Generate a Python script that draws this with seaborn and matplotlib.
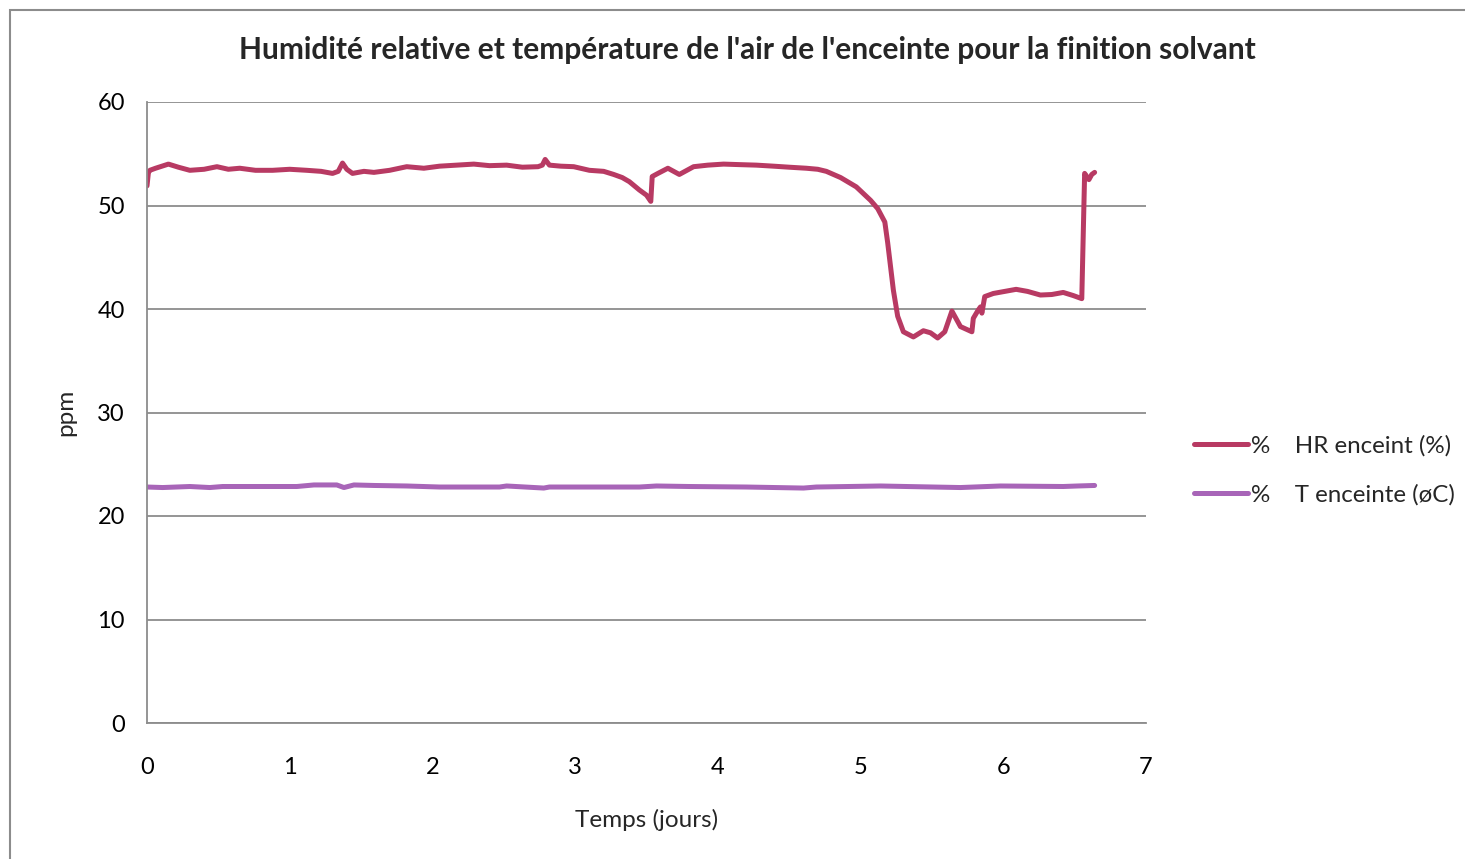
import numpy as np
import pandas as pd
import matplotlib
matplotlib.use("Agg")
import matplotlib.pyplot as plt
from matplotlib.patches import Rectangle
import seaborn as sns

# Relative humidity of the enclosure air (%), time in days
hr_days = [0.00, 0.01, 0.02, 0.06, 0.15, 0.22, 0.30, 0.40, 0.49, 0.57, 0.65, 0.76,
           0.88, 1.00, 1.12, 1.22, 1.30, 1.34, 1.37, 1.40, 1.44, 1.52, 1.59, 1.70,
           1.82, 1.94, 2.05, 2.17, 2.29, 2.40, 2.52, 2.63, 2.74, 2.77, 2.79, 2.82,
           2.90, 2.99, 3.10, 3.20, 3.27, 3.33, 3.38, 3.45, 3.50, 3.53, 3.54, 3.58,
           3.65, 3.73, 3.83, 3.93, 4.04, 4.15, 4.27, 4.39, 4.50, 4.62, 4.70, 4.76,
           4.86, 4.97, 5.07, 5.12, 5.17, 5.19, 5.21, 5.23, 5.26, 5.30, 5.37, 5.44,
           5.49, 5.54, 5.59, 5.64, 5.70, 5.78, 5.79, 5.82, 5.84, 5.85, 5.87, 5.93,
           6.01, 6.09, 6.17, 6.26, 6.34, 6.42, 6.49, 6.55, 6.57, 6.60, 6.62, 6.64]
hr_values = [51.9, 53.2, 53.4, 53.6, 54.0, 53.7, 53.4, 53.5, 53.75, 53.5, 53.6, 53.4,
             53.4, 53.5, 53.4, 53.3, 53.1, 53.3, 54.1, 53.5, 53.1, 53.3, 53.2, 53.4,
             53.75, 53.6, 53.8, 53.9, 54.0, 53.85, 53.9, 53.7, 53.75, 53.9, 54.45, 53.9,
             53.8, 53.75, 53.4, 53.3, 53.0, 52.7, 52.3, 51.5, 51.0, 50.4, 52.8, 53.1,
             53.6, 53.0, 53.75, 53.9, 54.0, 53.95, 53.9, 53.8, 53.7, 53.6, 53.5, 53.3,
             52.7, 51.8, 50.5, 49.7, 48.4, 46.4, 44.1, 41.8, 39.3, 37.8, 37.3, 37.9,
             37.7, 37.2, 37.8, 39.8, 38.3, 37.8, 39.1, 39.8, 40.2, 39.6, 41.2, 41.5,
             41.7, 41.9, 41.7, 41.35, 41.4, 41.6, 41.3, 41.0, 53.1, 52.5, 53.0, 53.2]

# Enclosure air temperature (°C), time in days
t_days = [0.00, 0.11, 0.30, 0.44, 0.53, 0.80, 1.05, 1.17, 1.33, 1.38, 1.45, 1.59,
          1.82, 2.05, 2.47, 2.52, 2.78, 2.82, 3.45, 3.57, 3.80, 4.20, 4.60, 4.69,
          5.14, 5.32, 5.70, 5.98, 6.42, 6.52, 6.64]
t_values = [22.8, 22.75, 22.85, 22.75, 22.85, 22.85, 22.85, 23.0, 23.0, 22.75, 23.0, 22.95,
            22.9, 22.8, 22.8, 22.9, 22.7, 22.8, 22.8, 22.9, 22.85, 22.8, 22.7, 22.8,
            22.9, 22.85, 22.75, 22.9, 22.85, 22.9, 22.95]

hr_label = "%    HR enceint (%)"
t_label = "%    T enceinte (øC)"

df = pd.concat([
    pd.DataFrame({"jours": hr_days, "valeur": hr_values, "serie": hr_label}),
    pd.DataFrame({"jours": t_days, "valeur": t_values, "serie": t_label}),
], ignore_index=True)

sns.set_style("white")
plt.rcParams["font.family"] = ["Lato", "DejaVu Sans"]

fig = plt.figure(figsize=(14.65, 8.59), dpi=100)
ax = fig.add_axes([147 / 1465, 1 - 723 / 859, (1146 - 147) / 1465, (723 - 102) / 859])

palette = {hr_label: "#B83A63", t_label: "#A865B8"}
sns.lineplot(data=df, x="jours", y="valeur", hue="serie", palette=palette,
             linewidth=3.6, ax=ax, sort=False, estimator=None,
             solid_capstyle="round", solid_joinstyle="round")

grid_c = "#8C8C8C"
ax.set_xlim(0, 7)
ax.set_ylim(0, 60)
ax.set_xticks(range(0, 8))
ax.set_yticks(range(0, 61, 10))
ax.yaxis.grid(True, color=grid_c, linewidth=1.3)
ax.xaxis.grid(False)
for side in ("top", "right"):
    ax.spines[side].set_visible(False)
for side in ("left", "bottom"):
    ax.spines[side].set_color(grid_c)
    ax.spines[side].set_linewidth(1.3)
ax.tick_params(axis="both", which="major", direction="out", length=6, width=1.3,
               color=grid_c, labelsize=17, labelcolor="black")
ax.tick_params(axis="x", pad=18.5)
ax.tick_params(axis="y", pad=10)
ax.set_axisbelow(True)

ax.set_xlabel("Temps (jours)", fontsize=17.5, labelpad=22.5)
ax.set_ylabel("ppm", fontsize=17.5, labelpad=15)

fig.text(747 / 1465, 1 - 50 / 859,
         "Humidité relative et température de l'air de l'enceinte pour la finition solvant",
         ha="center", va="center", fontsize=21.5, fontweight="bold")

handles, labels = ax.get_legend_handles_labels()
ax.legend(handles, labels, loc="center left", bbox_to_anchor=(1172 / 1465, 1 - 470 / 859),
          bbox_transform=fig.transFigure, frameon=False, fontsize=17.4,
          handlelength=2.25, handletextpad=0.1, labelspacing=1.15)

# Thin grey frame around the chart area
fig.patches.append(Rectangle((10 / 1465, -0.05), 1.2, 1 - 10 / 859 + 0.05,
                             transform=fig.transFigure, fill=False,
                             edgecolor="#8C8C8C", linewidth=1.5, clip_on=False))

fig.savefig("out.png", dpi=100)
